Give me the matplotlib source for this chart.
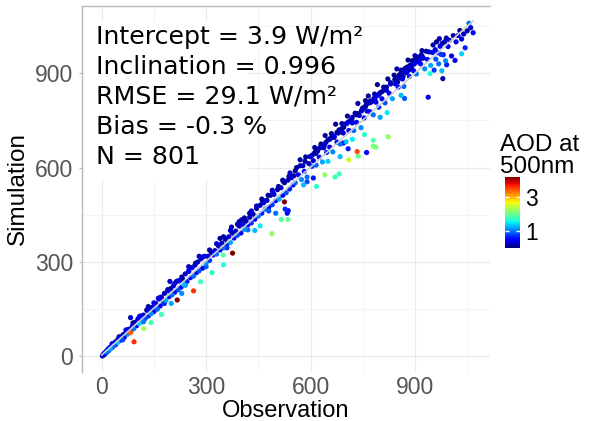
import numpy as np
import matplotlib
matplotlib.use("Agg")
import matplotlib.pyplot as plt
from matplotlib.patches import Rectangle

# observacion / simulacion (W/m2) y AOD a 500 nm
obs = [2, 4, 6, 8, 10, 12, 14, 16, 18, 20,
       22, 25, 27, 30, 32, 35, 38, 40, 43, 46,
       48, 52, 55, 58, 62, 65, 70, 74, 78, 84,
       88, 92, 96, 100, 104, 108, 112, 116, 120, 125,
       130, 134, 138, 142, 146, 150, 155, 160, 164, 168,
       172, 176, 180, 185, 190, 194, 198, 202, 206, 210,
       215, 220, 224, 228, 232, 236, 240, 245, 250, 255,
       260, 264, 268, 272, 276, 280, 285, 290, 295, 300,
       305, 310, 315, 320, 325, 330, 335, 340, 345, 350,
       355, 360, 365, 370, 375, 380, 385, 390, 395, 400,
       405, 410, 415, 420, 425, 430, 435, 440, 445, 450,
       455, 460, 465, 470, 475, 480, 485, 490, 495, 500,
       505, 510, 515, 520, 525, 530, 535, 540, 545, 550,
       552, 556, 560, 565, 570, 574, 578, 582, 586, 590,
       595, 600, 604, 608, 612, 616, 620, 625, 630, 634,
       638, 642, 646, 650, 655, 660, 664, 668, 672, 676,
       680, 685, 690, 694, 698, 702, 706, 710, 715, 720,
       724, 728, 732, 736, 740, 745, 750, 754, 758, 762,
       766, 770, 775, 780, 784, 788, 792, 796, 800, 805,
       810, 814, 818, 822, 826, 830, 835, 840, 844, 848,
       852, 856, 860, 864, 868, 872, 876, 880, 884, 888,
       892, 896, 900, 904, 908, 912, 916, 920, 924, 928,
       932, 936, 940, 945, 950,
       845, 850, 855, 858, 862, 866, 870, 874, 878, 882,
       886, 890, 894, 898, 902, 906, 910, 914, 918, 922,
       605, 615, 628, 640, 655, 668, 682, 695, 708, 720,
       735, 748, 760, 772, 785, 798,
       83, 108, 134, 163, 196, 220, 250, 280,
       340, 373, 402, 430, 460, 490, 520, 541, 470, 395,
       952, 958, 962, 966, 970, 972, 975, 978, 981, 985,
       990, 991, 995, 999, 1005, 1010, 1015, 1018, 1024, 1029,
       1034, 1034, 1040, 1044, 1050, 1055, 1060, 1067, 960, 968,
       943, 980, 977, 938, 955, 988,
       83, 93, 121, 142, 172, 217, 264, 284, 317, 350,
       349, 376, 200, 230, 440, 455, 500, 489, 516, 535,
       525, 536, 533, 527,
       617, 608, 641, 670, 682, 685, 694, 708, 710, 734,
       737, 761, 780, 788, 780, 823, 755, 800, 820, 860,
       870, 720, 650, 580, 590,
       410, 425, 445, 462, 478, 492, 508, 522, 538, 556,
       570, 584, 598, 612, 626, 644, 658, 676, 690, 704,
       718, 732, 746, 758, 770, 782, 794, 806, 818, 830,
       842, 852, 862, 872, 880, 888, 896, 904, 912, 920,
       30, 50, 70, 90, 110, 130, 150, 170, 190, 210,
       230, 250, 270, 290, 310, 330, 350, 370, 390,
       60, 120, 180, 240, 300, 360, 420, 480]

sim = [1, 3, 8, 6, 12, 10, 17, 14, 22, 18,
       27, 23, 31, 28, 37, 33, 44, 37, 49, 44,
       55, 50, 62, 54, 69, 60, 78, 70, 86, 80,
       96, 88, 108, 97, 118, 104, 124, 110, 131, 120,
       148, 128, 150, 135, 156, 142, 168, 150, 182, 160,
       186, 172, 200, 178, 208, 190, 215, 195, 224, 204,
       238, 212, 240, 220, 246, 228, 262, 238, 270, 250,
       282, 255, 290, 266, 300, 272, 310, 280, 318, 296,
       318, 305, 330, 322, 336, 325, 352, 338, 360, 345,
       372, 356, 380, 362, 392, 376, 398, 385, 414, 392,
       420, 404, 430, 418, 442, 424, 452, 436, 470, 446,
       480, 455, 488, 468, 496, 474, 512, 482, 515, 495,
       530, 500, 536, 512, 552, 520, 560, 532, 568, 545,
       574, 552, 600, 577, 625, 562, 606, 588, 634, 570,
       613, 635, 604, 622, 664, 608, 652, 633, 675, 618,
       663, 702, 648, 688, 665, 708, 650, 696, 738, 681,
       710, 675, 740, 710, 738, 682, 764, 718, 750, 742,
       718, 773, 744, 804, 766, 727, 790, 758, 813, 780,
       828, 778, 809, 768, 834, 808, 864, 792, 838, 819,
       856, 806, 846, 882, 836, 870, 819, 894, 866, 914,
       856, 892, 910, 882, 858, 916, 902, 942, 890, 920,
       940, 908, 956, 898, 938, 952, 930, 972, 948, 914,
       970, 944, 968, 925, 966,
       880, 872, 895, 885, 900, 890, 912, 905, 920, 910,
       925, 918, 935, 930, 945, 936, 950, 944, 958, 950,
       640, 645, 665, 672, 690, 700, 720, 728, 745, 760,
       772, 785, 800, 812, 820, 835,
       123, 125, 158, 185, 238, 240, 285, 318,
       375, 411, 434, 462, 500, 528, 560, 583, 495, 428,
       990, 975, 1000, 965, 1010, 986, 960, 995, 959, 1000,
       1012, 927, 985, 1005, 955, 1020, 941, 1000, 1020, 1036,
       1009, 962, 1025, 981, 1035, 1059, 1045, 1029, 945, 930,
       899, 883, 908, 824, 910, 940,
       75, 46, 88, 107, 133, 179, 208, 237, 266, 291,
       322, 328, 168, 200, 400, 415, 455, 390, 435, 435,
       491, 463, 455, 468,
       540, 567, 577, 570, 580, 635, 678, 660, 625, 651,
       636, 648, 668, 665, 687, 698, 705, 760, 775, 830,
       820, 690, 620, 545, 555,
       440, 455, 478, 492, 512, 520, 540, 556, 572, 590,
       606, 620, 635, 648, 662, 680, 694, 712, 724, 740,
       752, 768, 780, 795, 806, 820, 830, 842, 856, 866,
       880, 888, 900, 908, 916, 922, 930, 940, 946, 955,
       40, 62, 84, 106, 128, 146, 170, 188, 212, 232,
       252, 272, 296, 315, 338, 358, 380, 400, 420,
       52, 110, 168, 226, 285, 345, 402, 462]

aod = [0.15, 0.25, 0.35, 0.15, 0.45, 0.65, 0.25, 1.0, 0.35, 0.15,
       0.45, 1.2, 0.25, 0.55, 0.35, 0.95, 0.25, 0.45, 0.15, 1.3,
       0.35, 0.55, 0.25, 0.75, 0.15, 0.45, 0.35, 1.1, 0.25, 0.55,
       0.25, 1.0, 0.15, 0.55, 0.35, 1.4, 0.15, 0.45, 0.25, 0.85,
       0.15, 0.65, 0.35, 1.1, 0.25, 0.45, 0.15, 0.95, 0.35, 0.55,
       0.25, 0.75, 0.15, 1.2, 0.35, 0.45, 0.15, 1.0, 0.25, 0.55,
       0.15, 0.85, 0.35, 0.45, 0.15, 1.3, 0.25, 0.65, 0.15, 0.45,
       0.35, 1.0, 0.15, 0.55, 0.25, 0.85, 0.15, 0.45, 0.35, 1.1,
       0.25, 0.75, 0.15, 0.55, 0.35, 1.0, 0.15, 0.45, 0.25, 0.95,
       0.15, 0.65, 0.35, 1.2, 0.15, 0.55, 0.25, 0.85, 0.15, 0.45,
       0.35, 1.1, 0.15, 0.55, 0.25, 0.75, 0.15, 0.45, 0.08, 1.0,
       0.15, 0.65, 0.25, 0.95, 0.15, 0.45, 0.08, 0.75, 0.25, 0.55,
       0.15, 1.2, 0.25, 0.45, 0.08, 0.85, 0.15, 0.65, 0.25, 0.45,
       0.15, 0.95, 0.08, 0.45, 0.15, 1.1, 0.25, 0.55, 0.08, 1.0,
       0.25, 0.15, 0.75, 0.35, 0.08, 0.95, 0.15, 0.45, 0.08, 1.2,
       0.25, 0.08, 0.65, 0.15, 0.45, 0.08, 1.1, 0.25, 0.08, 0.55,
       0.15, 1.0, 0.08, 0.35, 0.15, 1.3, 0.08, 0.55, 0.25, 0.35,
       0.95, 0.15, 0.45, 0.08, 0.25, 1.1, 0.15, 0.55, 0.08, 0.35,
       0.08, 0.45, 0.25, 1.0, 0.15, 0.35, 0.08, 0.75, 0.15, 0.45,
       0.15, 0.85, 0.25, 0.08, 0.55, 0.15, 1.2, 0.08, 0.35, 0.15,
       0.55, 0.15, 0.08, 0.35, 0.95, 0.15, 0.25, 0.08, 0.65, 0.15,
       0.08, 0.45, 0.15, 1.0, 0.25, 0.15, 0.55, 0.08, 0.35, 1.1,
       0.15, 0.55, 0.25, 1.2, 0.45,
       0.08, 0.15, 0.08, 0.25, 0.15, 0.08, 0.15, 0.35, 0.08, 0.15,
       0.08, 0.25, 0.15, 0.08, 0.15, 0.35, 0.08, 0.15, 0.08, 0.25,
       0.15, 0.08, 0.25, 0.15, 0.08, 0.35, 0.15, 0.08, 0.25, 0.15,
       0.08, 0.25, 0.15, 0.08, 0.35, 0.15,
       0.25, 0.45, 0.15, 0.35, 0.25, 0.35, 0.15, 0.25,
       0.15, 0.25, 0.15, 0.35, 0.08, 0.25, 0.15, 0.25, 0.35, 0.15,
       0.15, 0.35, 0.08, 0.65, 0.15, 0.45, 0.75, 0.15, 0.55, 0.25,
       0.15, 0.65, 0.45, 0.25, 0.35, 0.15, 0.45, 0.35, 0.25, 0.08,
       0.35, 1.4, 0.25, 0.65, 0.15, 1.0, 0.25, 0.55, 0.85, 1.0,
       1.6, 0.15, 1.3, 0.35, 0.75, 1.1,
       3.4, 3.6, 2.3, 1.8, 1.8, 4.2, 3.6, 1.8, 1.7, 1.6,
       1.9, 4.3, 1.2, 1.1, 1.3, 1.5, 1.0, 2.2, 1.9, 2.0,
       4.3, 0.6, 0.5, 0.7,
       1.7, 0.6, 2.2, 1.8, 1.8, 1.3, 0.5, 0.6, 2.5, 3.5,
       2.0, 0.5, 2.1, 2.1, 1.9, 2.2, 1.7, 1.2, 1.5, 1.3,
       0.9, 1.5, 1.4, 1.3, 0.8,
       0.08, 0.15, 0.25, 0.08, 0.15, 0.35, 0.08, 0.15, 0.25, 0.08,
       0.15, 0.08, 0.35, 0.15, 0.08, 0.25, 0.15, 0.08, 0.15, 0.35,
       0.08, 0.15, 0.25, 0.08, 0.15, 0.08, 0.35, 0.15, 0.08, 0.25,
       0.15, 0.08, 0.15, 0.25, 0.08, 0.15, 0.35, 0.08, 0.15, 0.25,
       0.25, 0.15, 0.45, 0.08, 0.35, 0.15, 0.55, 0.25, 0.08, 0.35,
       0.15, 0.45, 0.08, 0.25, 0.15, 0.35, 0.08, 0.25, 0.15,
       0.8, 1.0, 0.6, 1.1, 0.9, 0.7, 1.0, 0.85]

intercepto = 3.9
pendiente = 0.996
etiquetas = ["Intercept = 3.9 W/m\u00b2", "Inclination = 0.996",
             "RMSE = 29.1 W/m\u00b2", "Bias = -0.3 %", "N = 801"]

obs = np.array(obs, dtype=float)
sim = np.array(sim, dtype=float)
aod = np.array(aod, dtype=float)
orden = np.argsort(aod)

fig = plt.figure(figsize=(5.99, 4.21), dpi=100)
ax = fig.add_axes([82/599, 1-372/421, 408/599, 366/421])
ax.set_xlim(-56.5, 1115.5)
ax.set_ylim(-50, 1114)

ax.set_xticks([0, 300, 600, 900])
ax.set_yticks([0, 300, 600, 900])
ax.set_xticks([150, 450, 750, 1050], minor=True)
ax.set_yticks([150, 450, 750, 1050], minor=True)
ax.grid(which="major", color="#ebebeb", lw=0.9)
ax.grid(which="minor", color="#f3f3f3", lw=0.6)
ax.set_axisbelow(True)

for lado in ["right", "bottom"]:
    ax.spines[lado].set_visible(False)
for lado in ["left", "top"]:
    ax.spines[lado].set_color("#b8b8b8")
    ax.spines[lado].set_linewidth(1.0)

ax.tick_params(axis="x", which="both", length=0, pad=3, labelsize=16.5,
               labelcolor="#555555")
ax.tick_params(axis="y", which="major", length=2.5, width=0.8, color="#b8b8b8",
               pad=4, labelsize=16.5, labelcolor="#555555")
ax.tick_params(axis="y", which="minor", length=0)
for t in ax.get_xticklabels() + ax.get_yticklabels():
    t.set_fontfamily("Liberation Sans")

# recuadro blanco del texto
ax.add_patch(Rectangle((0, 0.525), 0.41, 0.43, transform=ax.transAxes,
                       facecolor="white", edgecolor="none", zorder=1.5))

sc = ax.scatter(obs[orden], sim[orden], c=aod[orden], cmap="jet", vmin=0.0, vmax=4.2,
                s=14, linewidths=0, zorder=3)

xs = np.array([0, obs.max()])
ax.plot(xs, intercepto + pendiente*xs, color="#cccccc", lw=1.2, zorder=4)

for i, et in enumerate(etiquetas):
    ax.text(96/599, 1 - (37 + 30*i)/421, et, transform=fig.transFigure,
            fontsize=18.2, family="DejaVu Sans", va="center", ha="left", zorder=5)

ax.set_xlabel("Observation", fontsize=17, family="Liberation Sans")
ax.xaxis.set_label_coords(0.5, -0.077)
ax.set_ylabel("Simulation", fontsize=17.5, family="Liberation Sans", labelpad=4)

cax = fig.add_axes([505/599, 1-248/421, 15/599, 71/421])
cb = fig.colorbar(sc, cax=cax)
cb.outline.set_visible(False)
cb.set_ticks([1, 3])
cax.tick_params(direction="in", color="white", length=3, width=1,
                left=True, right=True, pad=4, labelsize=16.5)
for t in cax.get_yticklabels():
    t.set_fontfamily("Liberation Sans")
fig.text(500/599, 1-178/421, "AOD at\n500nm", fontsize=17.5, family="Liberation Sans",
         ha="left", va="bottom", linespacing=1.0)

fig.savefig("out.png", dpi=100)
